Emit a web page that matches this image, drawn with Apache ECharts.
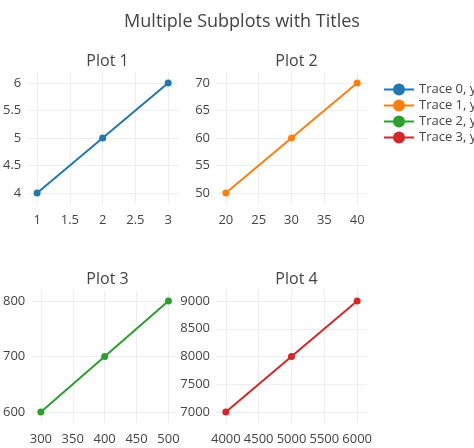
<!DOCTYPE html>
<html><head><meta charset="utf-8">
<script src="https://cdn.jsdelivr.net/npm/echarts@6/dist/echarts.min.js"></script>
<style>body{margin:0}#c{width:474px;height:448px}</style></head>
<body><div id="c"></div>
<script>
// data
const x0 = [1, 2, 3], y0 = [4, 5, 6];
const x1 = [20, 30, 40], y1 = [50, 60, 70];
const x2 = [300, 400, 500], y2 = [600, 700, 800];
const x3 = [4000, 5000, 6000], y3 = [7000, 8000, 9000];
const names = ["Trace 0, y", "Trace 1, y", "Trace 2, y", "Trace 3, y"];
const colors = ["#1f77b4", "#ff7f0e", "#2ca02c", "#d62728"];
const titles = ["Plot 1", "Plot 2", "Plot 3", "Plot 4"];
const xTicks = [[1, 1.5, 2, 2.5, 3], [20, 25, 30, 35, 40], [300, 350, 400, 450, 500], [4000, 4500, 5000, 5500, 6000]];
const yTicks = [[4, 4.5, 5, 5.5, 6], [50, 55, 60, 65, 70], [600, 700, 800], [7000, 7500, 8000, 8500, 9000]];
const xRange = [[0.85, 3.15], [18.5, 41.5], [285, 515], [3850, 6150]];
const yRange = [[3.8, 6.2], [48, 72], [580, 820], [6800, 9200]];

const font = "'Open Sans', sans-serif";
const grids = [
  { left: 27, top: 72, width: 151, height: 132 },
  { left: 216, top: 72, width: 151, height: 132 },
  { left: 27, top: 290, width: 151, height: 133 },
  { left: 216, top: 290, width: 151, height: 133 }
];
const xs = [x0, x1, x2, x3], ys = [y0, y1, y2, y3];

const axis = (range, ticks, i, margin) => ({
  type: "value", gridIndex: i, min: range[0], max: range[1],
  axisLine: { show: false },
  axisTick: { show: false, customValues: ticks },
  axisLabel: { customValues: ticks, color: "#444", fontSize: 13, fontFamily: font, margin: margin,
    formatter: v => String(v) },
  splitLine: { show: true, lineStyle: { color: "#eee" } }
});

const option = {
  animation: false,
  textStyle: { fontFamily: font },
  title: [{ text: "Multiple Subplots with Titles", left: 237, top: 8, textAlign: "center",
    textStyle: { fontSize: 18, fontWeight: "normal", color: "#444", fontFamily: font } }]
    .concat(titles.map((t, i) => ({
      text: t, left: grids[i].left + grids[i].width / 2, top: grids[i].top - 24, textAlign: "center",
      textStyle: { fontSize: 16, fontWeight: "normal", color: "#444", fontFamily: font }
    }))),
  legend: {
    orient: "vertical", left: 378, top: 78, itemGap: 3, itemWidth: 30, itemHeight: 15,
    data: names, textStyle: { fontSize: 13, color: "#444", fontFamily: font },
    itemStyle: { borderWidth: 0 }, symbolRotate: 0
  },
  grid: grids,
  xAxis: xRange.map((r, i) => axis(r, xTicks[i], i, 10)),
  yAxis: yRange.map((r, i) => axis(r, yTicks[i], i, 6)),
  series: names.map((n, i) => ({
    name: n, type: "line", xAxisIndex: i, yAxisIndex: i,
    data: xs[i].map((v, j) => [v, ys[i][j]]),
    symbol: "circle", symbolSize: 7,
    lineStyle: { width: 2, color: colors[i] }, itemStyle: { color: colors[i] }
  }))
};
echarts.init(document.getElementById("c")).setOption(option);
</script></body></html>
